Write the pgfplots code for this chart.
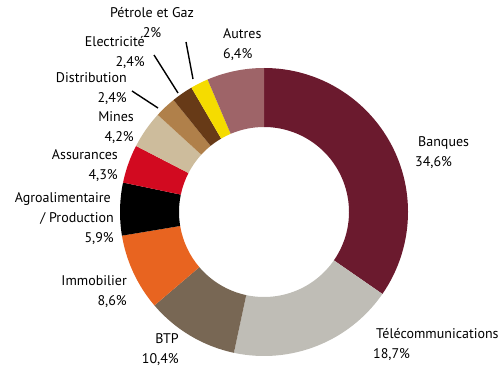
\documentclass[border=0pt]{standalone}
\usepackage{pgfplots}
\pgfplotsset{compat=1.18}
\usepackage{pgfplotstable}
\usepackage{fontspec}
\setmainfont{PT Sans}

\definecolor{cBanques}{HTML}{6B1A2E}
\definecolor{cTelecom}{HTML}{BFBDB6}
\definecolor{cBTP}{HTML}{786754}
\definecolor{cImmo}{HTML}{E86420}
\definecolor{cAgro}{HTML}{000000}
\definecolor{cAssur}{HTML}{D20A20}
\definecolor{cMines}{HTML}{CDBC9C}
\definecolor{cDistrib}{HTML}{B0804A}
\definecolor{cElec}{HTML}{673A17}
\definecolor{cPetrole}{HTML}{F5DC00}
\definecolor{cAutres}{HTML}{9E6468}

\tikzset{lbl/.style={font=\fontsize{14}{20}\selectfont, align=left, inner sep=0pt}}

% Share of each sector (%), clockwise from twelve o'clock
\pgfplotstableread[col sep=comma]{
sector,value,color
Banques,34.6,cBanques
Telecommunications,18.7,cTelecom
BTP,10.4,cBTP
Immobilier,8.6,cImmo
Agroalimentaire,5.9,cAgro
Assurances,4.3,cAssur
Mines,4.2,cMines
Distribution,2.4,cDistrib
Electricite,2.4,cElec
Petrole,2.0,cPetrole
Autres,6.4,cAutres
}\sectors

\begin{document}
\begin{tikzpicture}
\begin{axis}[
  scale only axis, width=502pt, height=370pt,
  xmin=0, xmax=502, ymin=0, ymax=370,
  hide axis, clip=false,
]
% keep the whole frame as the picture's extent
\path (axis cs:0,0) rectangle (axis cs:502,370);
% total of all shares
\pgfplotstablegetrowsof{\sectors}
\pgfmathtruncatemacro\nrows{\pgfplotsretval-1}
\def\total{0}
\pgfplotsforeachungrouped \i in {0,...,\nrows}{%
  \pgfplotstablegetelem{\i}{value}\of\sectors
  \pgfmathsetmacro\total{\total+\pgfplotsretval}%
  \global\let\total\total
}
% ring sectors
\def\cum{0}
\pgfplotsforeachungrouped \i in {0,...,\nrows}{%
  \pgfplotstablegetelem{\i}{value}\of\sectors \let\val\pgfplotsretval
  \pgfplotstablegetelem{\i}{color}\of\sectors \let\col\pgfplotsretval
  \pgfmathsetmacro\aS{90-\cum/\total*360}%
  \pgfmathsetmacro\aE{90-(\cum+\val)/\total*360}%
  \edef\temp{\noexpand\fill[\col, shift={(axis cs:264,158)}]
    (\aS:144pt) arc[start angle=\aS, end angle=\aE, radius=144pt]
    -- (\aE:85pt) arc[start angle=\aE, end angle=\aS, radius=85pt] -- cycle;}%
  \temp
  \pgfmathsetmacro\cum{\cum+\val}%
  \global\let\cum\cum
}

% leader lines
\draw[line width=1.4pt] (axis cs:186,328) -- (axis cs:193,291);
\draw[line width=1.4pt] (axis cs:154,315) -- (axis cs:178,277);
\draw[line width=1.4pt] (axis cs:132,279) -- (axis cs:158,262);

% labels
\node[lbl, anchor=west] at (axis cs:415,217) {\hspace*{3pt}Banques\\34,6\%};
\node[lbl, anchor=west] at (axis cs:373,26) {\hspace*{3pt}Télécommunications\\18,7\%};
\node[lbl, anchor=east, align=right] at (axis cs:179,20) {BTP\\10,4\%};
\node[lbl, anchor=east, align=right] at (axis cs:127,78) {Immobilier\\8,6\%};
\node[lbl, anchor=east, align=right] at (axis cs:114,151) {Agroalimentaire\hspace*{3pt}\\/ Production\\5,9\%};
\node[lbl, anchor=east, align=right] at (axis cs:118,204) {Assurances\\4,3\%};
\node[lbl, anchor=east, align=right] at (axis cs:134,242) {Mines\\4,2\%};
\node[lbl, anchor=east, align=right] at (axis cs:127,281) {Distribution\\2,4\%};
\node[lbl, anchor=east, align=right] at (axis cs:145,317) {Electricité\\2,4\%};
\node[lbl, align=center] at (axis cs:152,347) {Pétrole et Gaz\\2\%};
\node[lbl, anchor=west] at (axis cs:223,325) {Autres\\6,4\%};
\end{axis}
\end{tikzpicture}
\end{document}
